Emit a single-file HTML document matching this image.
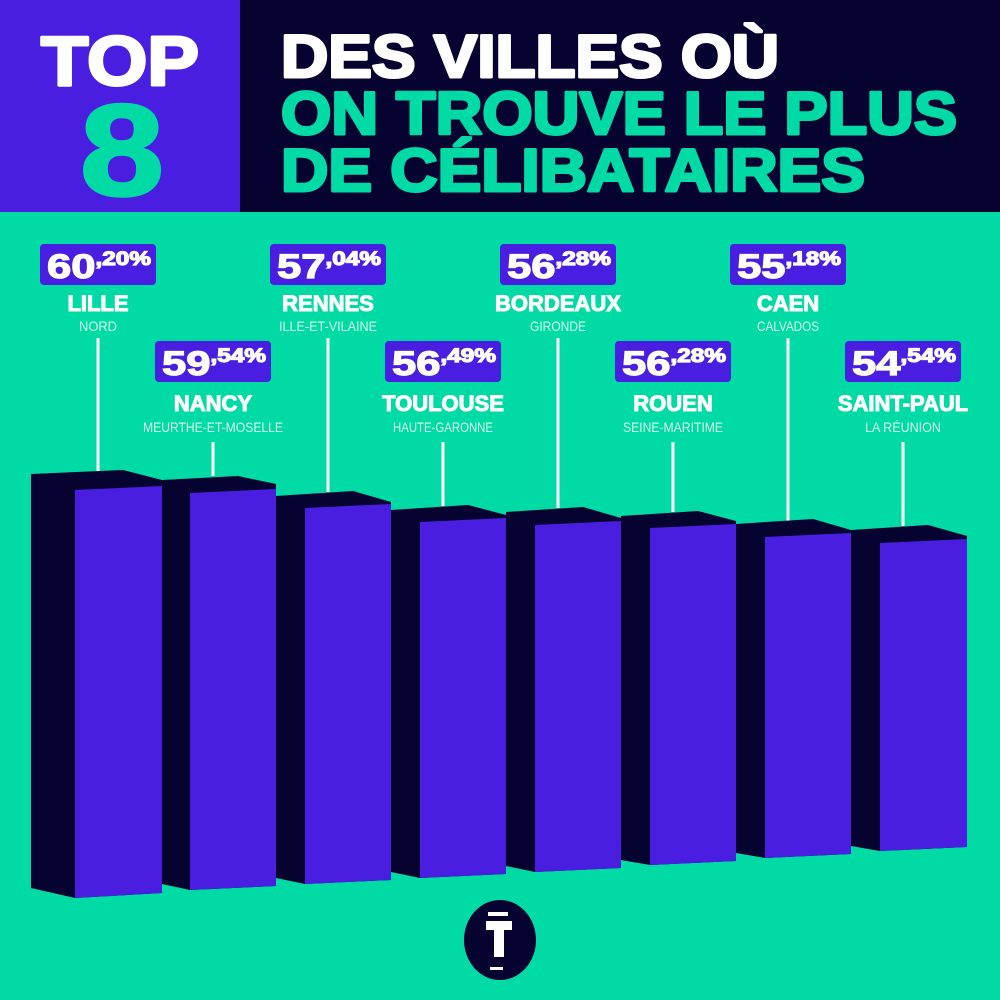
<!DOCTYPE html>
<html><head><meta charset="utf-8"><style>
html,body{margin:0;padding:0;width:1000px;height:1000px;overflow:hidden;background:#00dba6}
svg{display:block}
text{font-family:"Liberation Sans",sans-serif;font-weight:bold}
.sub{font-family:"Liberation Sans Narrow","Liberation Sans",sans-serif;font-weight:normal;fill:#d4f7ea;font-size:14px}
.nm{fill:#fff;font-size:22px;stroke:#fff;stroke-width:1}
.num{fill:#fff;stroke:#fff;stroke-width:1.2;font-size:34px}
.hd{stroke-width:3;stroke-linejoin:round}
</style></head><body>
<svg width="1000" height="1000" viewBox="0 0 1000 1000" xmlns="http://www.w3.org/2000/svg">
<rect width="1000" height="1000" fill="#00dba6"/>
<rect x="0" y="0" width="1000" height="212" fill="#070331"/>
<rect x="0" y="0" width="240" height="212" fill="#4a1ee0"/>
<text class="hd" x="120" y="85" text-anchor="middle" font-size="70" fill="#fff" stroke="#fff" textLength="158" lengthAdjust="spacingAndGlyphs">TOP</text>
<text class="hd" x="122" y="195" text-anchor="middle" font-size="130" fill="#00dba6" stroke="#00dba6" stroke-width="5" textLength="84" lengthAdjust="spacingAndGlyphs">8</text>
<text class="hd" x="281" y="77" font-size="60" fill="#fff" stroke="#fff" textLength="498" lengthAdjust="spacingAndGlyphs">DES VILLES OÙ</text>
<text class="hd" x="281" y="134" font-size="60" fill="#00dba6" stroke="#00dba6" textLength="676" lengthAdjust="spacingAndGlyphs">ON TROUVE LE PLUS</text>
<text class="hd" x="281" y="191" font-size="60" fill="#00dba6" stroke="#00dba6" textLength="584" lengthAdjust="spacingAndGlyphs">DE CÉLIBATAIRES</text>

<g stroke="#fff" stroke-width="3">
<line x1="98" y1="338" x2="98" y2="472"/>
<line x1="213" y1="442" x2="213" y2="476"/>
<line x1="328" y1="338" x2="328" y2="492"/>
<line x1="443" y1="442" x2="443" y2="506"/>
<line x1="558" y1="338" x2="558" y2="508"/>
<line x1="673" y1="442" x2="673" y2="512"/>
<line x1="788" y1="338" x2="788" y2="522"/>
<line x1="903" y1="442" x2="903" y2="526"/>
</g>

<g>
<polygon fill="#070331" points="31,474 123,470 162,480 162,893 75,898 31,888"/>
<polygon fill="#4a1ee0" points="75,490 162,486 162,893 75,898"/>
<polygon fill="#070331" points="162,480 238,476 276,484 276,886 190,890 162,884"/>
<polygon fill="#4a1ee0" points="190,493 276,489 276,886 190,890"/>
<polygon fill="#070331" points="276,496 353,491 391,502 391,880 305,884 276,878"/>
<polygon fill="#4a1ee0" points="305,508 391,504 391,880 305,884"/>
<polygon fill="#070331" points="391,510 468,505 506,515 506,874 420,878 391,872"/>
<polygon fill="#4a1ee0" points="420,522 506,518 506,874 420,878"/>
<polygon fill="#070331" points="506,512 583,507 621,518 621,868 535,872 506,866"/>
<polygon fill="#4a1ee0" points="535,525 621,521 621,868 535,872"/>
<polygon fill="#070331" points="621,516 698,511 736,521 736,861 650,865 621,860"/>
<polygon fill="#4a1ee0" points="650,528 736,524 736,861 650,865"/>
<polygon fill="#070331" points="736,524 813,519 851,530 851,854 765,858 736,853"/>
<polygon fill="#4a1ee0" points="765,537 851,533 851,854 765,858"/>
<polygon fill="#070331" points="851,530 928,525 967,536 967,847 880,851 851,846"/>
<polygon fill="#4a1ee0" points="880,543 967,539 967,847 880,851"/>
</g>

<g>
<rect x="40" y="244" width="116" height="41" rx="4" fill="#4a1ee0"/>
<text x="47" y="278" class="num" textLength="104" lengthAdjust="spacingAndGlyphs">60<tspan font-size="19" dy="-13">,20%</tspan></text>
<text x="98" y="311" class="nm" text-anchor="middle">LILLE</text>
<text x="98" y="331" class="sub" text-anchor="middle" textLength="38" lengthAdjust="spacingAndGlyphs">NORD</text>

<rect x="270" y="244" width="116" height="41" rx="4" fill="#4a1ee0"/>
<text x="277" y="278" class="num" textLength="104" lengthAdjust="spacingAndGlyphs">57<tspan font-size="19" dy="-13">,04%</tspan></text>
<text x="328" y="311" class="nm" text-anchor="middle">RENNES</text>
<text x="328" y="331" class="sub" text-anchor="middle" textLength="98" lengthAdjust="spacingAndGlyphs">ILLE-ET-VILAINE</text>

<rect x="500" y="244" width="116" height="41" rx="4" fill="#4a1ee0"/>
<text x="507" y="278" class="num" textLength="104" lengthAdjust="spacingAndGlyphs">56<tspan font-size="19" dy="-13">,28%</tspan></text>
<text x="558" y="311" class="nm" text-anchor="middle">BORDEAUX</text>
<text x="558" y="331" class="sub" text-anchor="middle" textLength="56" lengthAdjust="spacingAndGlyphs">GIRONDE</text>

<rect x="730" y="244" width="116" height="41" rx="4" fill="#4a1ee0"/>
<text x="737" y="278" class="num" textLength="104" lengthAdjust="spacingAndGlyphs">55<tspan font-size="19" dy="-13">,18%</tspan></text>
<text x="788" y="311" class="nm" text-anchor="middle">CAEN</text>
<text x="788" y="331" class="sub" text-anchor="middle" textLength="62" lengthAdjust="spacingAndGlyphs">CALVADOS</text>
</g>
<g>
<rect x="155" y="341" width="116" height="41" rx="4" fill="#4a1ee0"/>
<text x="162" y="375" class="num" textLength="104" lengthAdjust="spacingAndGlyphs">59<tspan font-size="19" dy="-13">,54%</tspan></text>
<text x="213" y="411" class="nm" text-anchor="middle">NANCY</text>
<text x="213" y="432" class="sub" text-anchor="middle" textLength="140" lengthAdjust="spacingAndGlyphs">MEURTHE-ET-MOSELLE</text>

<rect x="385" y="341" width="116" height="41" rx="4" fill="#4a1ee0"/>
<text x="392" y="375" class="num" textLength="104" lengthAdjust="spacingAndGlyphs">56<tspan font-size="19" dy="-13">,49%</tspan></text>
<text x="443" y="411" class="nm" text-anchor="middle">TOULOUSE</text>
<text x="443" y="432" class="sub" text-anchor="middle" textLength="100" lengthAdjust="spacingAndGlyphs">HAUTE-GARONNE</text>

<rect x="615" y="341" width="116" height="41" rx="4" fill="#4a1ee0"/>
<text x="622" y="375" class="num" textLength="104" lengthAdjust="spacingAndGlyphs">56<tspan font-size="19" dy="-13">,28%</tspan></text>
<text x="673" y="411" class="nm" text-anchor="middle">ROUEN</text>
<text x="673" y="432" class="sub" text-anchor="middle" textLength="100" lengthAdjust="spacingAndGlyphs">SEINE-MARITIME</text>

<rect x="845" y="341" width="116" height="41" rx="4" fill="#4a1ee0"/>
<text x="852" y="375" class="num" textLength="104" lengthAdjust="spacingAndGlyphs">54<tspan font-size="19" dy="-13">,54%</tspan></text>
<text x="903" y="411" class="nm" text-anchor="middle">SAINT-PAUL</text>
<text x="903" y="432" class="sub" text-anchor="middle" textLength="76" lengthAdjust="spacingAndGlyphs">LA RÉUNION</text>
</g>

<ellipse cx="500" cy="940" rx="36" ry="40" fill="#070331"/>
<rect x="488" y="912" width="20" height="4" fill="#fff"/>
<rect x="486" y="921" width="26" height="9" fill="#fff"/>
<rect x="494" y="921" width="10" height="36" fill="#fff"/>
<rect x="490" y="967" width="13" height="3" fill="#fff"/>
</svg>
</body></html>
